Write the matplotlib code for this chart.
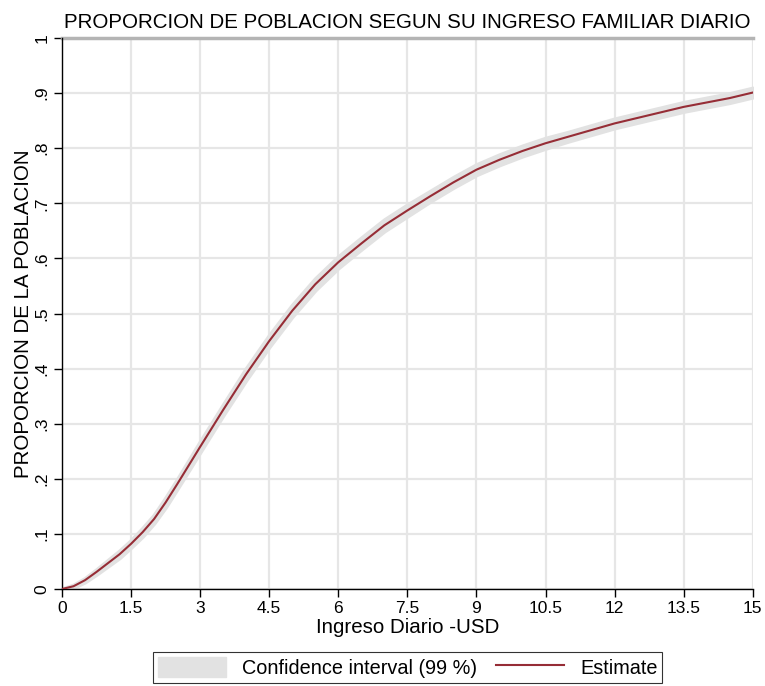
import numpy as np
import matplotlib
matplotlib.use('Agg')
import matplotlib.pyplot as plt
from matplotlib.patches import Patch
from matplotlib.lines import Line2D

# Cumulative share of population by daily household income (USD)
income = [0, 0.25, 0.5, 0.75, 1.0, 1.25, 1.5, 1.75, 2.0, 2.25, 2.5, 3.0, 3.5, 4.0,
          4.5, 5.0, 5.5, 6.0, 6.5, 7.0, 7.5, 8.0, 8.5, 9.0, 9.5, 10.0, 10.5,
          11.0, 11.5, 12.0, 12.5, 13.0, 13.5, 14.0, 14.5, 15.0]
estimate = [0, 0.005, 0.016, 0.031, 0.047, 0.063, 0.082, 0.103, 0.127, 0.157,
            0.19, 0.258, 0.325, 0.39, 0.45, 0.505, 0.553, 0.593, 0.627, 0.66,
            0.687, 0.713, 0.738, 0.761, 0.779, 0.795, 0.809, 0.821, 0.833,
            0.845, 0.855, 0.865, 0.875, 0.883, 0.891, 0.901]
ci_half = [0, 0.002, 0.003, 0.004, 0.005, 0.006, 0.006, 0.007, 0.007, 0.008,
           0.008, 0.009, 0.009, 0.010, 0.010, 0.010, 0.010, 0.010, 0.010, 0.010,
           0.010, 0.009, 0.009, 0.009, 0.009, 0.009, 0.009, 0.008, 0.008,
           0.008, 0.008, 0.008, 0.008, 0.008, 0.008, 0.008]

x_ticks = [0, 1.5, 3, 4.5, 6, 7.5, 9, 10.5, 12, 13.5, 15]
x_labels = ['0', '1.5', '3', '4.5', '6', '7.5', '9', '10.5', '12', '13.5', '15']
y_ticks = [0, .1, .2, .3, .4, .5, .6, .7, .8, .9, 1]
y_labels = ['0', '.1', '.2', '.3', '.4', '.5', '.6', '.7', '.8', '.9', '1']

plt.rcParams['font.family'] = ['Liberation Sans', 'DejaVu Sans']

x = np.array(income)
y = np.array(estimate)
h = np.array(ci_half)

fig = plt.figure(figsize=(7.65, 6.86), dpi=100)
ax = fig.add_axes([0.081, 0.1414, 0.903, 0.8032])

band_color = '#e2e2e2'
line_color = '#962d36'
ax.fill_between(x, y - h, y + h, color=band_color, linewidth=3, edgecolor=band_color,
                zorder=2)
ax.plot(x, y, color=line_color, linewidth=1.5, zorder=3)

ax.set_xlim(0, 15)
ax.set_ylim(0, 1)
ax.set_xticks(x_ticks)
ax.set_xticklabels(x_labels, fontsize=12.5)
ax.set_yticks(y_ticks)
ax.set_yticklabels(y_labels, fontsize=12.5, rotation=90, va='center')
ax.grid(True, color='#e6e6e6', linewidth=1.6, zorder=0)
ax.set_axisbelow(True)
ax.axhline(1, color='#b4b4b4', linewidth=2.5, zorder=1, clip_on=False)
for s in ['top', 'right']:
    ax.spines[s].set_visible(False)
for s in ['left', 'bottom']:
    ax.spines[s].set_color('black')
    ax.spines[s].set_linewidth(1.0)
ax.tick_params(direction='out', length=6, width=1, colors='black', pad=3)

ax.set_title('PROPORCION DE POBLACION SEGUN SU INGRESO FAMILIAR DIARIO',
             fontsize=14.8, pad=7)
ax.set_xlabel('Ingreso Diario -USD', fontsize=14.8, labelpad=1)
ax.set_ylabel('PROPORCION DE LA POBLACION', fontsize=14.8, labelpad=1)

handles = [Patch(facecolor=band_color, edgecolor=band_color),
           Line2D([0], [0], color=line_color, linewidth=1.5)]
leg = fig.legend(handles, ['Confidence interval (99 %)', 'Estimate'],
                 loc='upper center', bbox_to_anchor=(0.533, 0.0496), ncol=2,
                 fontsize=14.3, frameon=True, fancybox=False, edgecolor='black',
                 handlelength=3.4, handleheight=1.2, columnspacing=1.0,
                 borderpad=0.25, borderaxespad=0, handletextpad=0.8)
leg.get_frame().set_linewidth(0.8)

fig.savefig('out.png', dpi=100)
